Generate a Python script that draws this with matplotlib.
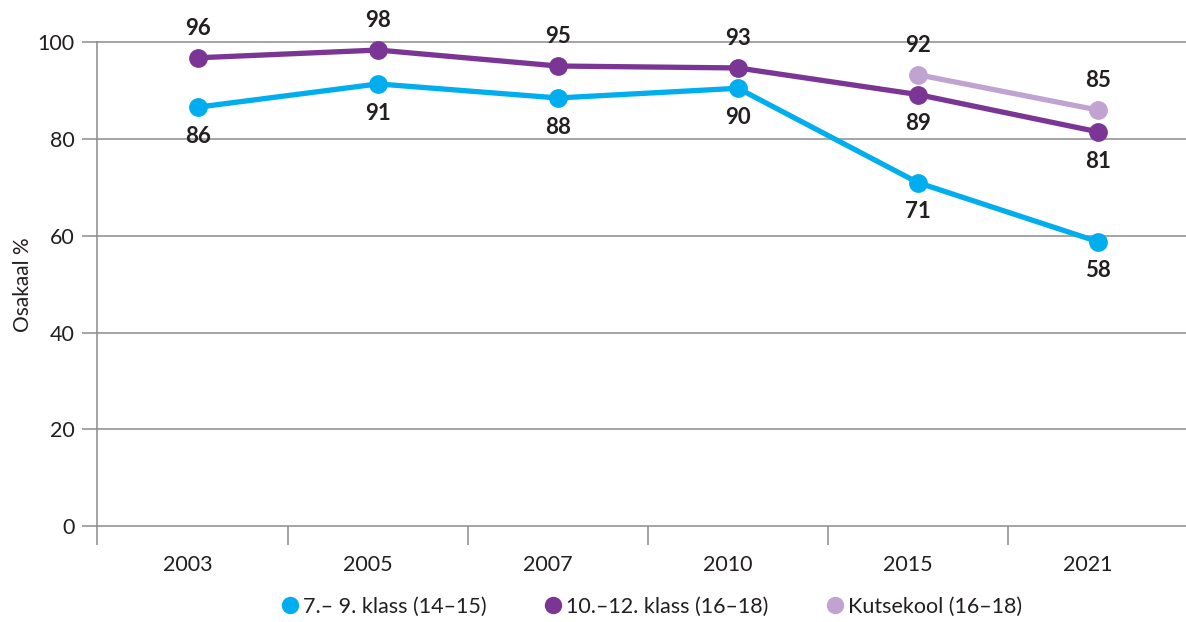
import matplotlib
matplotlib.use("Agg")
import matplotlib.pyplot as plt
from matplotlib.lines import Line2D
import matplotlib.transforms as mtransforms

plt.rcParams['font.family'] = ['Lato', 'DejaVu Sans']

years = ["2003", "2005", "2007", "2010", "2015", "2021"]
series_names = ["7.– 9. klass (14–15)", "10.–12. klass (16–18)", "Kutsekool (16–18)"]
blue_vals = [86.6, 91.4, 88.5, 90.5, 71.0, 58.8]
blue_labels = ["86", "91", "88", "90", "71", "58"]
purple_vals = [96.8, 98.4, 95.1, 94.7, 89.2, 81.5]
purple_labels = ["96", "98", "95", "93", "89", "81"]
light_vals = [93.3, 86.0]
light_labels = ["92", "85"]
light_years_idx = [4, 5]
yticks = [0, 20, 40, 60, 80, 100]

c_blue = "#00AEEF"
c_purple = "#7B3594"
c_light = "#C0A3D0"
grid_c = "#8C8C8C"
txt_c = "#231F20"

FS = 15.5
W, H = 1186, 622
fig = plt.figure(figsize=(W / 100, H / 100), dpi=100)
left = 96.7 / W
bottom = (H - 526.3) / H
top = (H - 42.3) / H
ax = fig.add_axes([left, bottom, 1 - left, top - bottom])

x_all = list(range(len(years)))
ax.set_xlim(-0.563, 5.489)
ax.set_ylim(0, 100)

for s in ["top", "right", "bottom"]:
    ax.spines[s].set_visible(False)
ax.spines["left"].set_color(grid_c)
ax.spines["left"].set_linewidth(1.1)

ax.set_yticks(yticks)
ax.set_yticklabels([str(v) for v in yticks])
for v in yticks:
    ax.axhline(v, color=grid_c, lw=1.1, zorder=1, clip_on=False)
ax.tick_params(axis="y", length=11, width=1.1, color=grid_c, labelsize=FS,
               labelcolor=txt_c, pad=5)

ax.set_xticks(x_all)
ax.set_xticklabels(years)
ax.tick_params(axis="x", which="major", length=0, labelsize=FS, labelcolor=txt_c, pad=21)
ax.set_xticks([-0.563] + [k + 0.5 for k in range(5)], minor=True)
ax.tick_params(axis="x", which="minor", length=14, width=1.1, color=grid_c, direction="out")
shift = mtransforms.ScaledTranslation(-10 / 100, 0, fig.dpi_scale_trans)
for lbl in ax.get_xticklabels():
    lbl.set_transform(lbl.get_transform() + shift)

ax.set_ylabel("Osakaal %", fontsize=15, color=txt_c, labelpad=3)

lw = 3.8
ms = 12.5
ax.plot(x_all, blue_vals, color=c_blue, lw=lw, marker="o", ms=ms, zorder=3, clip_on=False)
ax.plot(x_all, purple_vals, color=c_purple, lw=lw, marker="o", ms=ms, zorder=3, clip_on=False)
ax.plot(light_years_idx, light_vals, color=c_light, lw=lw, marker="o", ms=ms, zorder=2, clip_on=False)

off = 21
LFS = 16
purple_pos = ["above", "above", "above", "above", "below", "below"]
for xi, v, t in zip(x_all, blue_vals, blue_labels):
    ax.annotate(t, (xi, v), xytext=(0, -off), textcoords="offset points", ha="center", va="center",
                fontsize=LFS, fontweight="bold", color=txt_c)
for xi, v, t, p in zip(x_all, purple_vals, purple_labels, purple_pos):
    ax.annotate(t, (xi, v), xytext=(0, off if p == "above" else -off), textcoords="offset points",
                ha="center", va="center", fontsize=LFS, fontweight="bold", color=txt_c)
for xi, v, t in zip(light_years_idx, light_vals, light_labels):
    ax.annotate(t, (xi, v), xytext=(0, off), textcoords="offset points", ha="center", va="center",
                fontsize=LFS, fontweight="bold", color=txt_c)

handles = [Line2D([], [], ls="none", marker="o", ms=11.5, color=c) for c in (c_blue, c_purple, c_light)]
fig.legend(handles, series_names, loc="center", bbox_to_anchor=(653 / W, 1 - 607 / H), ncol=3,
           frameon=False, fontsize=FS, handlelength=0.6, handletextpad=0.3, columnspacing=2.8,
           labelcolor=txt_c)

fig.savefig("out.png", dpi=100)
